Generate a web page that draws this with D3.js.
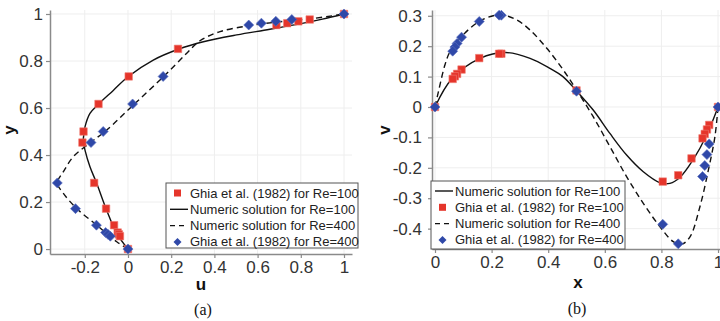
<!DOCTYPE html>
<html>
<head>
<meta charset="utf-8">
<script src="https://d3js.org/d3.v7.min.js"></script>
<style>
  body { margin: 0; background: #fff; }
  svg { display: block; font-family: "Liberation Sans", Arial, sans-serif; }
</style>
</head>
<body>
<svg width="720" height="321"></svg>
<script>
// ---- panel (a): u along vertical centreline ----
var ghiaY = [1.0000, 0.9766, 0.9688, 0.9609, 0.9531, 0.8516, 0.7344, 0.6172, 0.5000, 0.4531, 0.2813, 0.1719, 0.1016, 0.0703, 0.0625, 0.0547, 0.0000];
var ghiaU100 = [1.0, 0.84123, 0.78871, 0.73722, 0.68717, 0.23151, 0.00332, -0.13641, -0.20581, -0.21090, -0.15662, -0.10150, -0.06434, -0.04775, -0.04192, -0.03717, 0.0];
var ghiaU400 = [1.0, 0.75837, 0.68439, 0.61756, 0.55892, null, 0.16256, 0.02135, -0.11477, -0.17119, -0.32726, -0.24299, -0.14612, -0.10338, -0.09266, -0.08186, 0.0];

var numU100 = [0, -0.052, -0.099, -0.145, -0.176, -0.199, -0.207, -0.204, -0.199, -0.176, -0.136, -0.068, 0.0, 0.117, 0.233, 0.349, 0.503, 0.657, 0.812, 0.9, 1];
var numY100 = [0, 0.067, 0.166, 0.28, 0.35, 0.421, 0.46, 0.49, 0.52, 0.577, 0.617, 0.675, 0.733, 0.804, 0.85, 0.882, 0.911, 0.935, 0.961, 0.978, 1];
var numU400 = [0, -0.052, -0.145, -0.238, -0.299, -0.327, -0.299, -0.253, -0.168, -0.099, 0.025, 0.164, 0.272, 0.333, 0.426, 0.565, 0.704, 0.858, 1];
var numY400 = [0, 0.031, 0.102, 0.173, 0.237, 0.281, 0.329, 0.393, 0.457, 0.506, 0.613, 0.733, 0.833, 0.886, 0.925, 0.951, 0.967, 0.981, 1];

// ---- panel (b): v along horizontal centreline ----
var ghiaX = [1.0000, 0.9688, 0.9609, 0.9531, 0.9453, 0.9063, 0.8594, 0.8047, 0.5000, 0.2344, 0.2266, 0.1563, 0.0938, 0.0781, 0.0703, 0.0625, 0.0000];
var ghiaV100 = [0.0, -0.05906, -0.07391, -0.08864, -0.10313, -0.16914, -0.22445, -0.24533, 0.05454, 0.17527, 0.17507, 0.16077, 0.12317, 0.10890, 0.10091, 0.09233, 0.0];
var ghiaV400 = [0.0, -0.12146, -0.15663, -0.19254, -0.22847, null, -0.44993, -0.38598, 0.05186, 0.30174, 0.30203, 0.28124, 0.22965, 0.20920, 0.19713, 0.18360, 0.0];

var numX100 = [0, 0.059, 0.159, 0.25, 0.336, 0.406, 0.452, 0.5, 0.559, 0.618, 0.677, 0.736, 0.795, 0.83, 0.866, 0.913, 0.96, 1];
var numV100 = [0, 0.092, 0.160, 0.179, 0.160, 0.127, 0.10, 0.053, -0.010, -0.087, -0.158, -0.213, -0.249, -0.251, -0.231, -0.172, -0.092, 0];
var numX400 = [0, 0.012, 0.035, 0.053, 0.094, 0.159, 0.23, 0.289, 0.336, 0.395, 0.453, 0.5, 0.559, 0.618, 0.677, 0.736, 0.795, 0.842, 0.872, 0.901, 0.936, 0.966, 0.989, 1];
var numV400 = [0, 0.05, 0.138, 0.182, 0.232, 0.283, 0.303, 0.286, 0.253, 0.193, 0.122, 0.056, -0.032, -0.13, -0.229, -0.317, -0.394, -0.443, -0.451, -0.427, -0.328, -0.207, -0.098, 0];

var ticksA_x = [-0.2, 0, 0.2, 0.4, 0.6, 0.8, 1];
var ticksA_y = [0, 0.2, 0.4, 0.6, 0.8, 1];
var ticksB_x = [0, 0.2, 0.4, 0.6, 0.8, 1];
var ticksB_y = [-0.4, -0.3, -0.2, -0.1, 0, 0.1, 0.2, 0.3];

var red = "#e5352b", blue = "#2f48a8";
var svg = d3.select("svg");

function pairs(xs, ys) {
  return xs.map(function(x, i) { return [x, ys[i]]; }).filter(function(d) { return d[0] != null && d[1] != null; });
}
var fmt = function(d) { return String(+d.toFixed(1)); };

var sqPath = d3.symbol(d3.symbolSquare, 56)();
var diaPath = d3.symbol(d3.symbolSquare, 50)();

function panel(opt) {
  var g = svg.append("g");
  var x = d3.scaleLinear().domain(opt.xd).range(opt.xr);
  var y = d3.scaleLinear().domain(opt.yd).range(opt.yr);

  // grid
  g.append("g").selectAll("line").data(opt.xt).join("line")
    .attr("x1", function(d) { return x(d); }).attr("x2", function(d) { return x(d); })
    .attr("y1", opt.yr[0]).attr("y2", opt.yr[1])
    .attr("stroke", "#eeeeee").attr("stroke-width", 1);
  g.append("g").selectAll("line").data(opt.yt).join("line")
    .attr("y1", function(d) { return y(d); }).attr("y2", function(d) { return y(d); })
    .attr("x1", opt.xr[0]).attr("x2", opt.xr[1])
    .attr("stroke", "#eeeeee").attr("stroke-width", 1);

  var xa = g.append("g").attr("transform", "translate(0," + opt.yr[0] + ")")
    .call(d3.axisBottom(x).tickValues(opt.xt).tickFormat(fmt).tickSize(4).tickSizeOuter(0).tickPadding(3));
  var ya = g.append("g").attr("transform", "translate(" + opt.xr[0] + ",0)")
    .call(d3.axisLeft(y).tickValues(opt.yt).tickFormat(fmt).tickSize(4).tickSizeOuter(0).tickPadding(opt.ypad));
  [xa, ya].forEach(function(a) {
    a.select(".domain").attr("stroke", "#8a8a8a").attr("stroke-width", 1.5);
    a.selectAll(".tick line").attr("stroke", "#8a8a8a").attr("stroke-width", 1.2);
    a.selectAll(".tick text").attr("font-size", 17).attr("fill", "#333")
      .attr("font-family", "Liberation Sans, Arial, sans-serif");
  });

  var line = d3.line().x(function(d) { return x(d[0]); }).y(function(d) { return y(d[1]); })
    .curve(d3.curveCatmullRom.alpha(0.5));

  opt.lines.forEach(function(l) {
    g.append("path").datum(pairs(l.xs, l.ys)).attr("d", line)
      .attr("fill", "none").attr("stroke", "#111").attr("stroke-width", 1.4)
      .attr("stroke-dasharray", l.dash ? "6,4" : null);
  });
  opt.marks.forEach(function(m) {
    g.append("g").selectAll("path").data(pairs(m.xs, m.ys)).join("path")
      .attr("d", m.dia ? diaPath : sqPath)
      .attr("transform", function(d) { return "translate(" + x(d[0]) + "," + y(d[1]) + ")" + (m.dia ? " rotate(45)" : ""); })
      .attr("fill", m.dia ? blue : red)
      .attr("stroke", m.dia ? "#5a6fbf" : "#f07a70").attr("stroke-width", 0.6);
  });

  // axis titles
  g.append("text").attr("x", opt.xl[0]).attr("y", opt.xl[1]).attr("text-anchor", "middle")
    .attr("font-weight", "bold").attr("font-size", 17).attr("fill", "#111").text(opt.xname);
  g.append("text").attr("transform", "translate(" + opt.yl[0] + "," + opt.yl[1] + ") rotate(-90)")
    .attr("text-anchor", "middle").attr("font-weight", "bold").attr("font-size", 17).attr("fill", "#111").text(opt.yname);
  g.append("text").attr("x", opt.cap[0]).attr("y", opt.cap[1]).attr("text-anchor", "middle")
    .attr("font-family", "Liberation Serif, Times New Roman, serif").attr("font-size", 16).attr("fill", "#111").text(opt.caption);

  // legend
  var lg = g.append("g").attr("transform", "translate(" + opt.leg.x + "," + opt.leg.y + ")");
  lg.append("rect").attr("width", opt.leg.w).attr("height", opt.leg.h)
    .attr("fill", "#fff").attr("stroke", "#555").attr("stroke-width", 1);
  opt.leg.items.forEach(function(it, i) {
    var cy = 10 + i * 16.3;
    if (it.type === "sq") {
      lg.append("rect").attr("x", 8).attr("y", cy - 3.5).attr("width", 7).attr("height", 7).attr("fill", red);
    } else if (it.type === "dia") {
      lg.append("path").attr("d", d3.symbol(d3.symbolSquare, 32)())
        .attr("transform", "translate(11.5," + cy + ") rotate(45)").attr("fill", blue);
    } else {
      lg.append("line").attr("x1", 4).attr("x2", 22).attr("y1", cy).attr("y2", cy)
        .attr("stroke", "#111").attr("stroke-width", 1.4)
        .attr("stroke-dasharray", it.type === "dash" ? "5,4" : null);
    }
    lg.append("text").attr("x", 24).attr("y", cy).attr("dy", "0.35em")
      .attr("font-size", 13).attr("fill", "#222").text(it.label);
  });
}

panel({
  xd: [-0.361, 1.037], xr: [50, 352],
  yd: [-0.021, 1.017], yr: [254, 10],
  xt: ticksA_x, yt: ticksA_y, ypad: 3,
  xname: "u", yname: "y", xl: [201, 290], yl: [15, 130],
  caption: "(a)", cap: [203, 315],
  lines: [
    { xs: numU100, ys: numY100, dash: false },
    { xs: numU400, ys: numY400, dash: true }
  ],
  marks: [
    { xs: ghiaU100, ys: ghiaY, dia: false },
    { xs: ghiaU400, ys: ghiaY, dia: true }
  ],
  leg: { x: 166, y: 183, w: 192, h: 65, items: [
    { type: "sq", label: "Ghia et al. (1982) for Re=100" },
    { type: "solid", label: "Numeric solution for Re=100" },
    { type: "dash", label: "Numeric solution for Re=400" },
    { type: "dia", label: "Ghia et al. (1982) for Re=400" }
  ] }
});

panel({
  xd: [-0.0106, 1.007], xr: [432, 720],
  yd: [-0.467, 0.319], yr: [249, 10],
  xt: ticksB_x, yt: ticksB_y, ypad: 6,
  xname: "x", yname: "v", xl: [578, 288], yl: [390, 130],
  caption: "(b)", cap: [577, 314],
  lines: [
    { xs: numX100, ys: numV100, dash: false },
    { xs: numX400, ys: numV400, dash: true }
  ],
  marks: [
    { xs: ghiaX, ys: ghiaV100, dia: false },
    { xs: ghiaX, ys: ghiaV400, dia: true }
  ],
  leg: { x: 431, y: 181, w: 194, h: 68, items: [
    { type: "solid", label: "Numeric solution for Re=100" },
    { type: "sq", label: "Ghia et al. (1982) for Re=100" },
    { type: "dash", label: "Numeric solution for Re=400" },
    { type: "dia", label: "Ghia et al. (1982) for Re=400" }
  ] }
});
</script>
</body>
</html>
